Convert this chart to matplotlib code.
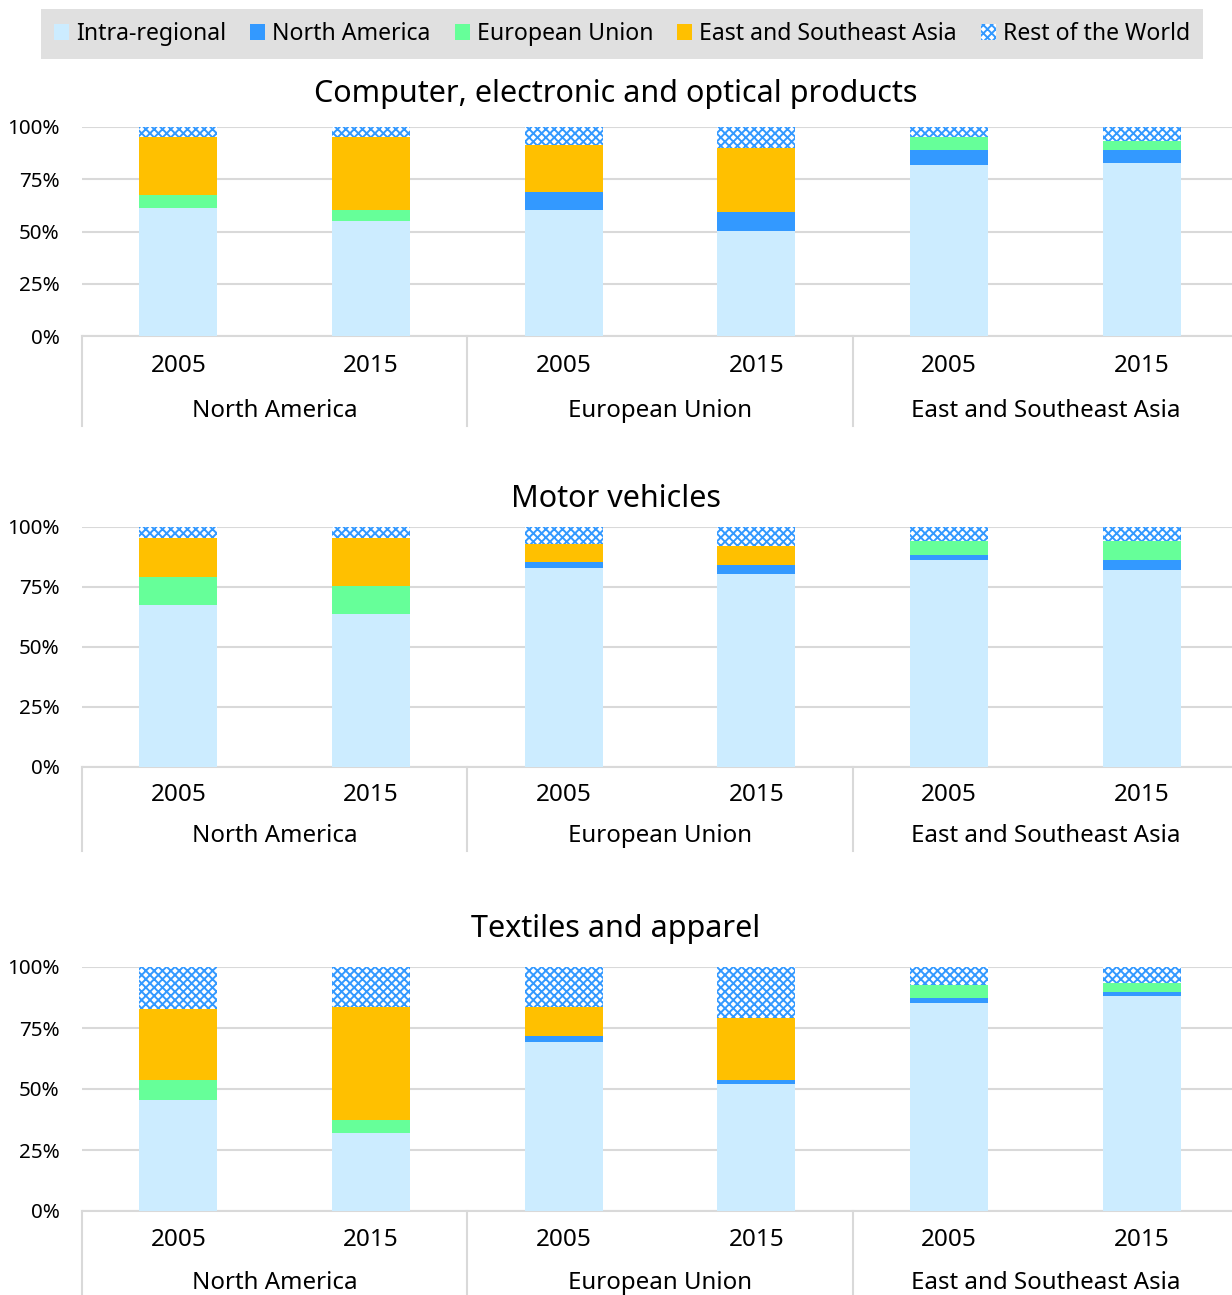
import matplotlib
matplotlib.use("Agg")
import matplotlib.pyplot as plt
import matplotlib.transforms as mtransforms
import numpy as np

plt.rcParams['font.family'] = ['Noto Sans', 'DejaVu Sans']
plt.rcParams['hatch.linewidth'] = 1.4

# categories
years = ['2005', '2015', '2005', '2015', '2005', '2015']
regions = ['North America', 'European Union', 'East and Southeast Asia']
series = ['Intra-regional', 'North America', 'European Union',
          'East and Southeast Asia', 'Rest of the World']

# Computer, electronic and optical products (%)
comp_intra = [61.2, 55.0, 60.3, 50.4, 81.8, 82.6]
comp_na = [0, 0, 8.7, 9.1, 7.2, 6.4]
comp_eu = [6.3, 5.3, 0, 0, 6.4, 4.5]
comp_esa = [27.9, 35.1, 22.5, 30.5, 0, 0]
comp_row = [4.6, 4.6, 8.5, 10.0, 4.6, 6.5]

# Motor vehicles (%)
motor_intra = [67.5, 63.8, 82.8, 80.5, 86.4, 82.1]
motor_na = [0, 0, 2.7, 3.7, 1.9, 4.1]
motor_eu = [11.7, 11.6, 0, 0, 6.0, 8.1]
motor_esa = [16.1, 19.9, 7.4, 8.0, 0, 0]
motor_row = [4.7, 4.7, 7.1, 7.8, 5.7, 5.7]

# Textiles and apparel (%)
tex_intra = [45.5, 32.0, 69.4, 52.2, 85.2, 88.2]
tex_na = [0, 0, 2.3, 1.5, 2.2, 1.6]
tex_eu = [8.2, 5.2, 0, 0, 5.2, 3.8]
tex_esa = [29.1, 46.4, 11.9, 25.5, 0, 0]
tex_row = [17.2, 16.4, 16.4, 20.8, 7.4, 6.4]

sectors = [
    ('Computer, electronic and optical products',
     [comp_intra, comp_na, comp_eu, comp_esa, comp_row]),
    ('Motor vehicles', [motor_intra, motor_na, motor_eu, motor_esa, motor_row]),
    ('Textiles and apparel', [tex_intra, tex_na, tex_eu, tex_esa, tex_row]),
]

colors = ['#CCECFF', '#3399FF', '#66FF99', '#FFC000', 'white']
hatches = [None, None, None, None, 'xxxx']
grid_col = '#D9D9D9'

W, H = 1232, 1295
fig = plt.figure(figsize=(W / 100, H / 100), dpi=100)

# layout in pixels: title y, axes top, axes bottom, year offset, region offset, separator length
layout = [
    (94, 127, 336, 30, 75, 90),
    (499, 527, 767, 28, 69, 84),
    (929, 967, 1211, 29, 72, 90),
]
ax_left, ax_right = 82, 1238

x = np.arange(len(years))
for (title, vals), (ty, top, bot, yoff, roff, slen) in zip(sectors, layout):
    ax = fig.add_axes([ax_left / W, 1 - bot / H, (ax_right - ax_left) / W, (bot - top) / H])
    bottom = np.zeros(len(years))
    for v, c, h, name in zip(vals, colors, hatches, series):
        ax.bar(x, v, 0.405, bottom=bottom, color=c, hatch=h,
               edgecolor='#3399FF' if h else 'none', linewidth=0, label=name, zorder=3)
        bottom += np.array(v)
    ax.set_xlim(-0.5, 5.5)
    ax.set_ylim(0, 100)
    ax.set_yticks([0, 25, 50, 75, 100])
    ax.set_yticklabels(['0%', '25%', '50%', '75%', '100%'])
    ax.yaxis.grid(True, color=grid_col, linewidth=1.5, zorder=0)
    ax.set_axisbelow(True)
    for s in ['left', 'right', 'top']:
        ax.spines[s].set_visible(False)
    ax.spines['bottom'].set_color(grid_col)
    ax.spines['bottom'].set_linewidth(1.5)
    ax.tick_params(axis='y', length=0, labelsize=14.8, pad=16)
    ax.set_xticks([])
    fig.text(0.5, 1 - ty / H, title, ha='center', va='center', fontsize=22)

    trans = mtransforms.blended_transform_factory(ax.transData, ax.transAxes)
    hpx = bot - top
    for i, yr in enumerate(years):
        ax.text(i, -yoff / hpx, yr, transform=trans, ha='center', va='center', fontsize=17.5)
    for j, reg in enumerate(regions):
        ax.text(2 * j + 0.5, -roff / hpx, reg, transform=trans, ha='center', va='center', fontsize=17.3)
    for xs in [-0.5, 1.5, 3.5]:
        ax.plot([xs, xs], [0, -slen / hpx], transform=trans, color=grid_col,
                linewidth=1.5, clip_on=False)

handles, labels = ax.get_legend_handles_labels()
leg = fig.legend(handles, labels, loc='center', bbox_to_anchor=(622 / W, 1 - 34 / H),
                 ncol=5, fontsize=16.6, frameon=True, fancybox=False,
                 handlelength=0.65, handleheight=0.65, handletextpad=0.3,
                 columnspacing=1.05, borderpad=0.55, borderaxespad=0)
leg.get_frame().set_facecolor('#D9D9D9')
leg.get_frame().set_edgecolor('none')

plt.savefig('out.png', dpi=100)
